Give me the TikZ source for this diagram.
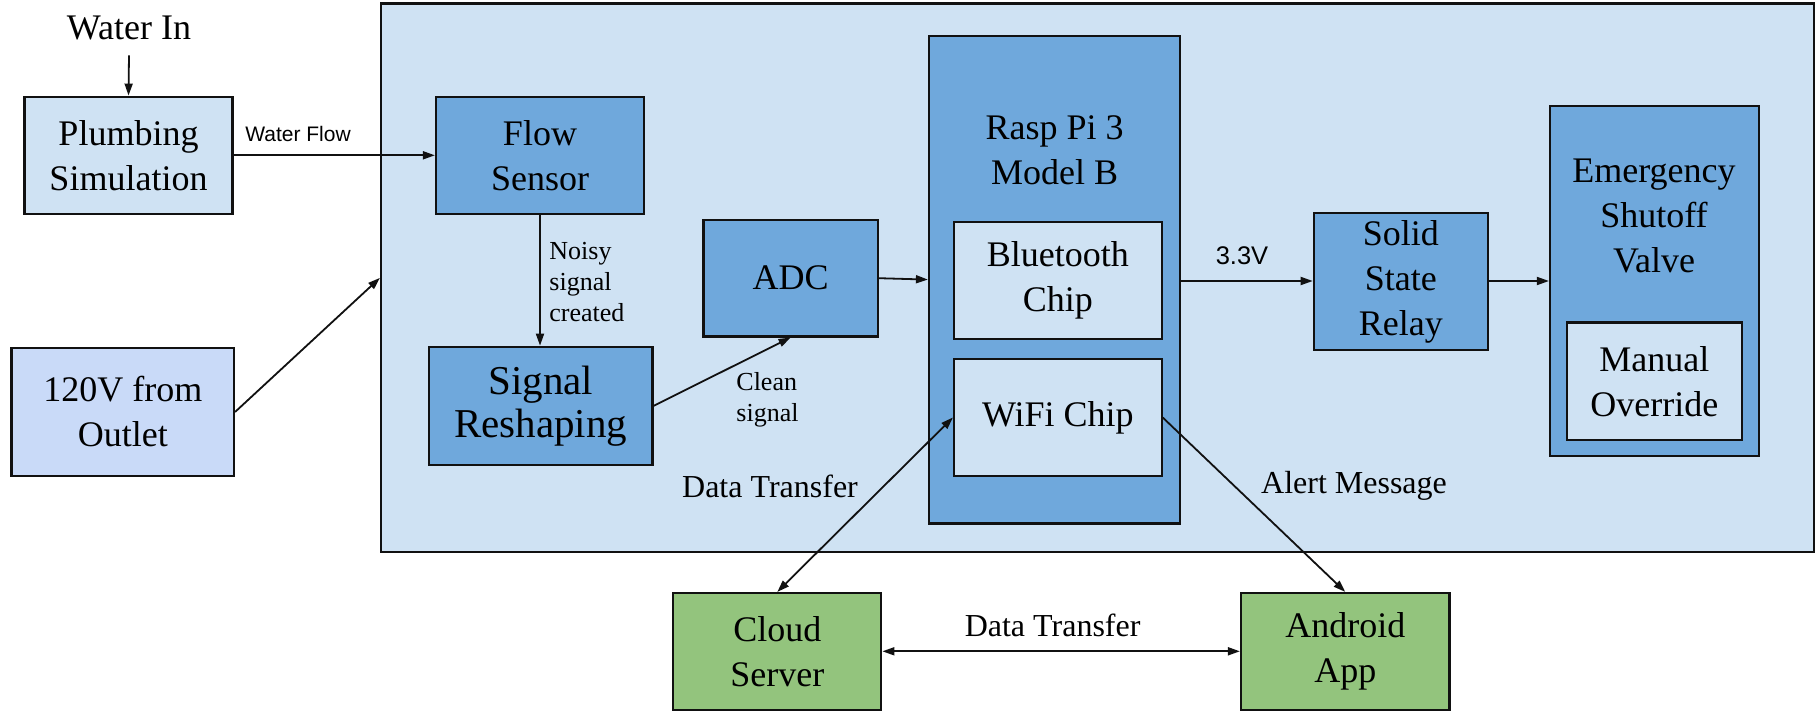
\documentclass[tikz,border=0pt]{standalone}
\usepackage{fontspec}
\setmainfont{Liberation Serif}
\newfontfamily\serifface{Liberation Serif}
\newfontfamily\labelsans{Liberation Sans}
\usetikzlibrary{arrows.meta}

\definecolor{paleblue}{HTML}{CFE2F3}
\definecolor{midblue}{HTML}{6FA8DC}
\definecolor{powder}{HTML}{C9DAF8}
\definecolor{leafgreen}{HTML}{93C47D}
\definecolor{edgeink}{HTML}{111111}

\newcommand\blkfont{\serifface\fontsize{18}{22.5}\selectfont}
\newcommand\bigblkfont{\serifface\fontsize{20.5}{21.5}\selectfont}
\newcommand\tagfont{\serifface\fontsize{16}{19}\selectfont}
\newcommand\notefont{\serifface\fontsize{13}{15.5}\selectfont}

\begin{document}
\begin{tikzpicture}[x=0.5pt, y=-0.5pt,
  blk/.style={draw=edgeink, line width=1.1pt, inner sep=0pt, align=center, font=\blkfont},
  lightblk/.style={blk, fill=paleblue},
  darkblk/.style={blk, fill=midblue},
  greenblk/.style={blk, fill=leafgreen},
  txt/.style={inner sep=0pt, align=center, font=\blkfont},
  tag/.style={inner sep=0pt, align=center, font=\tagfont},
  note/.style={inner sep=0pt, align=left, anchor=west, font=\notefont},
  arr/.style={-{Triangle[length=6pt,width=4pt]}, line width=0.9pt, draw=edgeink},
  dblarr/.style={{Triangle[length=6pt,width=4pt]}-{Triangle[length=6pt,width=4pt]}, line width=0.9pt, draw=edgeink}]

\useasboundingbox (0,0) rectangle (1818,711);

% enclosing system panel
\node[lightblk, minimum width=716.5pt, minimum height=274.4pt] (outer) at (1097.5,277.9) {};

% inputs on the left
\node[txt] (waterin) at (129,28) {Water In};
\node[lightblk, minimum width=104pt, minimum height=58.65pt] (plumb) at (128.5,155.3) {Plumbing\\Simulation};
\node[blk, fill=powder, minimum width=111.25pt, minimum height=64.15pt] (v120) at (122.8,411.9) {120V from\\Outlet};

% sensing chain
\node[darkblk, minimum width=104pt, minimum height=58.65pt] (flow) at (540,155.3) {Flow\\Sensor};
\node[darkblk, font=\bigblkfont, minimum width=111.75pt, minimum height=59.15pt] (sig) at (540.7,405.9) {Signal\\Reshaping};
\node[darkblk, minimum width=87.1pt, minimum height=58.2pt] (adc) at (790.6,278.2) {ADC};

% controller with its radios
\node[darkblk, minimum width=125.5pt, minimum height=243.9pt] (pi) at (1054.5,279.6) {};
\node[txt] (pitext) at (1054.5,150) {Rasp Pi 3\\Model B};
\node[lightblk, minimum width=103.8pt, minimum height=58.5pt] (bt) at (1057.8,280.5) {Bluetooth\\Chip};
\node[lightblk, minimum width=103.8pt, minimum height=58.5pt] (wifi) at (1057.8,417.5) {WiFi Chip};

% actuation
\node[darkblk, minimum width=87.1pt, minimum height=68.5pt] (ssr) at (1400.9,281.5) {Solid\\State\\Relay};
\node[darkblk, minimum width=104.5pt, minimum height=175.35pt] (valve) at (1654.5,281) {};
\node[txt] (valvetext) at (1654,216) {Emergency\\Shutoff\\Valve};
\node[lightblk, minimum width=87.35pt, minimum height=58.75pt] (manual) at (1654.3,381.2) {Manual\\Override};

% remote side
\node[greenblk, minimum width=104pt, minimum height=58.3pt] (cloud) at (777.3,651.3) {Cloud\\Server};
\node[greenblk, minimum width=104.25pt, minimum height=58.3pt] (android) at (1345.25,651.3) {Android\\App};

% labels
\node[inner sep=0pt, font=\labelsans\fontsize{10.5}{12}\selectfont] (flowlbl) at (298,134) {Water Flow};
\node[note] (noisylbl) at (549,282) {Noisy\\signal\\created};
\node[note] (cleanlbl) at (736,400) {Clean\\signal};
\node[inner sep=0pt, font=\labelsans\fontsize{12.75}{14}\selectfont] (voltlbl) at (1242,256) {3.3V};
\node[tag] (dtlbl) at (770,486) {Data Transfer};
\node[tag] (alertlbl) at (1354,486) {Alert Message};
\node[tag] (dt2lbl) at (1052.6,625) {Data Transfer};

% connectors
\draw[arr] ([yshift=-7.5pt]waterin.south) -- (plumb.north);
\draw[arr] (plumb.east) -- (plumb.east -| flow.west);
\draw[arr] (v120.east) -- (outer.west);
\draw[arr] (flow.south) -- (flow.south |- sig.north);
\draw[arr] (sig.east) -- (adc.south);
\draw[arr] (adc.east) -- (pi.west);
\draw[arr] (pi.east |- valve.west) -- (pi.east |- valve.west -| ssr.west);
\draw[arr] (ssr.east |- valve.west) -- (valve.west);
\draw[dblarr] (cloud.north) -- (wifi.west);
\draw[arr] (wifi.east) -- (android.north);
\draw[dblarr] (cloud.east) -- (android.west);
\end{tikzpicture}
\end{document}
